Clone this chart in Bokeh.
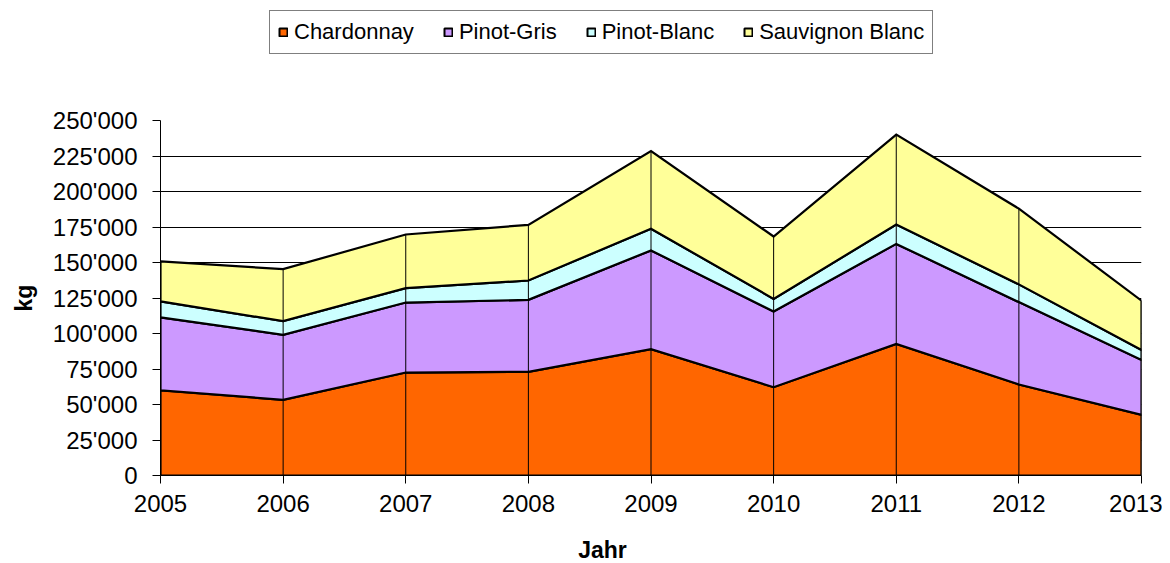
import numpy as np
from bokeh.plotting import figure
from bokeh.layouts import column
from bokeh.models import (Legend, LegendItem, FixedTicker, CustomJSTickFormatter,
                          Label, ColumnDataSource)
from bokeh.embed import file_html
from bokeh.resources import INLINE

years = [2005, 2006, 2007, 2008, 2009, 2010, 2011, 2012, 2013]
chardonnay = [60000, 53300, 72500, 73000, 89000, 62200, 92700, 64100, 42700]
pinot_gris = [51300, 45800, 49300, 50700, 69500, 53300, 70400, 58000, 38700]
pinot_blanc = [11300, 9600, 10100, 13600, 15300, 8900, 13600, 12500, 7000]
sauvignon_blanc = [28200, 36600, 37800, 39200, 54600, 43900, 63400, 53300, 34700]

series_names = ["Chardonnay", "Pinot-Gris", "Pinot-Blanc", "Sauvignon Blanc"]
series_vals = [chardonnay, pinot_gris, pinot_blanc, sauvignon_blanc]
colors = ["#FF6600", "#CC99FF", "#CCFFFF", "#FFFF99"]
y_ticks = list(range(0, 250001, 25000))
grid_ticks = y_ticks[1:-1]

FONT = "Liberation Sans"
W = 1162
LEG_H = 60
MAIN_H = 470
BOT_H = 33


def strip(height):
    f = figure(width=W, height=height, output_backend="svg", toolbar_location=None,
               x_range=(0, 1), y_range=(0, 1), min_border=0)
    f.axis.visible = False
    f.grid.visible = False
    f.outline_line_color = None
    f.background_fill_color = "white"
    f.border_fill_color = "white"
    return f


lf = strip(LEG_H)
bf = strip(BOT_H)

# ---------- main chart ----------
p = figure(width=W, height=MAIN_H, output_backend="svg", toolbar_location=None,
           x_range=(2005, 2013), y_range=(0, 250000),
           min_border_left=160, min_border_right=21, min_border_top=120 - LEG_H,
           min_border_bottom=55)
p.outline_line_color = None
p.background_fill_color = "white"
p.border_fill_color = "white"

xs = np.array(years, dtype=float)
lower = np.zeros(len(years))
leg_renderers = []
for name, vals, col in zip(series_names, series_vals, colors):
    upper = lower + np.array(vals, dtype=float)
    px = list(xs) + list(xs[::-1])
    py = list(upper) + list(lower[::-1])
    p.patch(px, py, fill_color=col, line_color="black", line_width=2.2, line_join="miter")
    # same series in the legend strip (outside its view) to provide the legend swatch
    lr = lf.patch(px, py, fill_color=col, line_color="black", line_width=2)
    leg_renderers.append(lr)
    lower = upper

totals = lower
src = ColumnDataSource(dict(x=years, y0=[0] * len(years), y1=list(totals)))
p.segment(x0="x", y0="y0", x1="x", y1="y1", source=src, line_color="black", line_width=1)

p.yaxis.ticker = FixedTicker(ticks=y_ticks)
p.xaxis.ticker = FixedTicker(ticks=years)
p.yaxis.formatter = CustomJSTickFormatter(code="""
return Math.round(tick).toString().replace(/\\B(?=(\\d{3})+(?!\\d))/g, "'");
""")
for ax in (p.xaxis[0], p.yaxis[0]):
    ax.axis_line_color = "black"
    ax.major_tick_line_color = "black"
    ax.major_tick_out = 8
    ax.major_tick_in = 0
    ax.minor_tick_line_color = None
    ax.major_label_text_font = FONT
    ax.major_label_text_font_size = "24px"
    ax.major_label_text_color = "black"
p.yaxis.major_label_standoff = 15
p.xaxis.major_label_standoff = 11

p.yaxis.axis_label = "kg"
p.yaxis.axis_label_text_font = FONT
p.yaxis.axis_label_text_font_style = "bold"
p.yaxis.axis_label_text_font_size = "23px"
p.yaxis.axis_label_text_color = "black"
p.yaxis.axis_label_standoff = 13

p.xgrid.visible = False
p.ygrid.ticker = FixedTicker(ticks=grid_ticks)
p.ygrid.grid_line_color = "black"
p.ygrid.grid_line_width = 1

jahr = Label(x=442, y=14, x_units="screen", y_units="screen", text="Jahr",
             text_font=FONT, text_font_style="bold", text_font_size="23px",
             text_align="center", text_baseline="middle", text_color="black")
bf.add_layout(jahr)

legend = Legend(items=[LegendItem(label=n, renderers=[r]) for n, r in zip(series_names, leg_renderers)],
                orientation="horizontal", location=(109, 6),
                glyph_width=10, glyph_height=10, label_standoff=6, spacing=29, padding=8,
                border_line_color="black", border_line_width=1, background_fill_alpha=1,
                label_text_font=FONT, label_text_font_size="22px", label_text_color="black",
                margin=0)
lf.add_layout(legend, "center")

layout = column(lf, p, bf, spacing=0)
open("out.html", "w").write(file_html(layout, INLINE))
